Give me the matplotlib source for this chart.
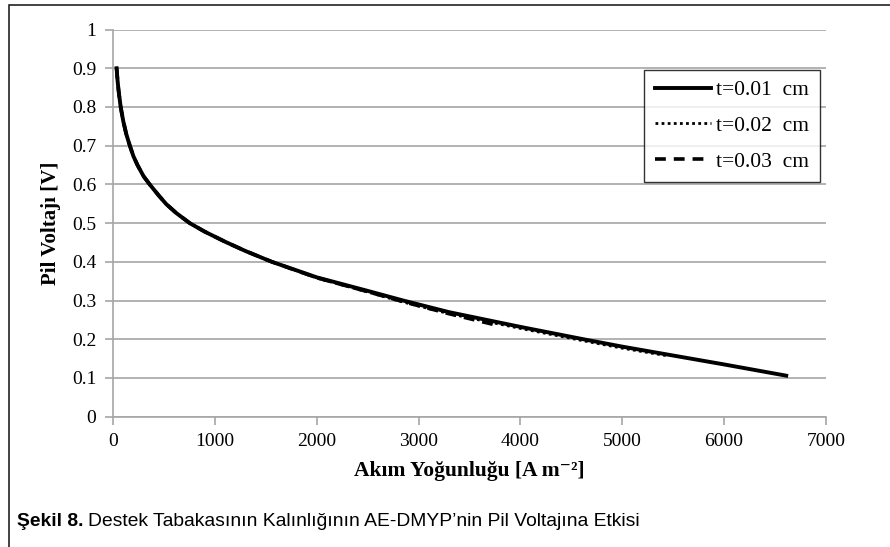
import numpy as np
import matplotlib.pyplot as plt
from matplotlib.patches import Rectangle

# current density [A m-2] and cell voltage [V] for each support layer thickness
akim_01 = [35, 45, 55, 75, 100, 130, 165, 200, 240, 300, 360, 450, 523, 621, 753, 900,
           1100, 1300, 1560, 2000, 2500, 2850, 3300, 4000, 4620, 5000, 5500, 6000, 6610]
volt_01 = [0.90, 0.867, 0.841, 0.80, 0.764, 0.73, 0.70, 0.673, 0.65, 0.621, 0.60, 0.571,
           0.549, 0.526, 0.50, 0.478, 0.452, 0.428, 0.40, 0.36, 0.325, 0.30, 0.27, 0.232,
           0.20, 0.181, 0.158, 0.135, 0.106]

akim_02 = [35, 45, 55, 75, 100, 130, 165, 200, 240, 300, 360, 450, 523, 621, 753, 900,
           1100, 1300, 1560, 2000, 2500, 2850, 3300, 4000, 4620, 5000, 5450]
volt_02 = [0.90, 0.867, 0.841, 0.80, 0.764, 0.73, 0.70, 0.673, 0.65, 0.621, 0.60, 0.571,
           0.549, 0.526, 0.50, 0.478, 0.452, 0.428, 0.40, 0.358, 0.322, 0.296, 0.266, 0.228,
           0.196, 0.177, 0.157]

akim_03 = [35, 45, 55, 75, 100, 130, 165, 200, 240, 300, 360, 450, 523, 621, 753, 900,
           1100, 1300, 1560, 2000, 2500, 2850, 3300, 3740, 3760]
volt_03 = [0.90, 0.867, 0.841, 0.80, 0.764, 0.73, 0.70, 0.673, 0.65, 0.621, 0.60, 0.571,
           0.549, 0.526, 0.50, 0.478, 0.452, 0.428, 0.40, 0.359, 0.323, 0.297, 0.266, 0.238,
           0.228]

etiketler = ['t=0.01  cm', 't=0.02  cm', 't=0.03  cm']
xticks = np.arange(0, 7001, 1000)
yticks = np.round(np.arange(0, 1.01, 0.1), 1)
ytick_labels = ['0', '0.1', '0.2', '0.3', '0.4', '0.5', '0.6', '0.7', '0.8', '0.9', '1']

plt.rcParams['font.family'] = ['Liberation Serif', 'DejaVu Serif']

fig = plt.figure(figsize=(8.9, 5.47), dpi=100)
ax = fig.add_axes([0.127, 0.2382, 0.801, 0.7078])

# outer chart frame (only left and top edges show)
fig.patches.append(Rectangle((9 / 890, -0.1), 1.2, 1.1 - 5 / 547, transform=fig.transFigure,
                             fill=False, edgecolor='#222222', linewidth=1.2))

ax.plot(akim_03, volt_03, color='black', lw=2.6, ls=(0, (3, 2.2)), label=etiketler[2])
ax.plot(akim_02, volt_02, color='black', lw=2.0, ls=(0, (1, 1.2)), label=etiketler[1])
ax.plot(akim_01, volt_01, color='black', lw=2.8, label=etiketler[0])

ax.set_xlim(0, 7000)
ax.set_ylim(0, 1)
ax.set_xticks(xticks)
ax.set_yticks(yticks)
ax.set_yticklabels(ytick_labels)
ax.grid(axis='y', color='#a6a6a6', lw=1.2)
ax.set_axisbelow(True)
for s in ['top', 'right']:
    ax.spines[s].set_visible(False)
for s in ['left', 'bottom']:
    ax.spines[s].set_color('#a6a6a6')
    ax.spines[s].set_linewidth(1.2)
ax.tick_params(axis='both', colors='#a6a6a6', labelcolor='black', labelsize=14,
               length=6, width=1.2, pad=6)

ax.set_xlabel('Akım Yoğunluğu [A m⁻²]', fontsize=15.5, fontweight='bold', labelpad=8)
ax.set_ylabel('Pil Voltajı [V]', fontsize=15, fontweight='bold', labelpad=8)

h, l = ax.get_legend_handles_labels()
leg = ax.legend(h[::-1], l[::-1], loc='upper right', bbox_to_anchor=(0.9916, 0.8966),
                fontsize=15.5, frameon=True, fancybox=False, edgecolor='black',
                handlelength=2.6, borderpad=0.5, labelspacing=0.72, handletextpad=0.25,
                borderaxespad=0)
leg.get_frame().set_linewidth(1.0)

# caption: bold figure number followed by the regular title
cap_font = ['Liberation Sans Narrow', 'Liberation Sans']
t1 = fig.text(17 / 890, 1 - 526 / 547, 'Şekil 8.', fontsize=13.9, fontweight='bold',
              family=cap_font, va='baseline')
fig.canvas.draw()
bb = t1.get_window_extent().transformed(fig.transFigure.inverted())
fig.text(bb.x1 + 4 / 890, 1 - 526 / 547,
         "Destek Tabakasının Kalınlığının AE-DMYP’nin Pil Voltajına Etkisi",
         fontsize=13.9, family=cap_font, va='baseline')

fig.savefig('out.png', dpi=100)
